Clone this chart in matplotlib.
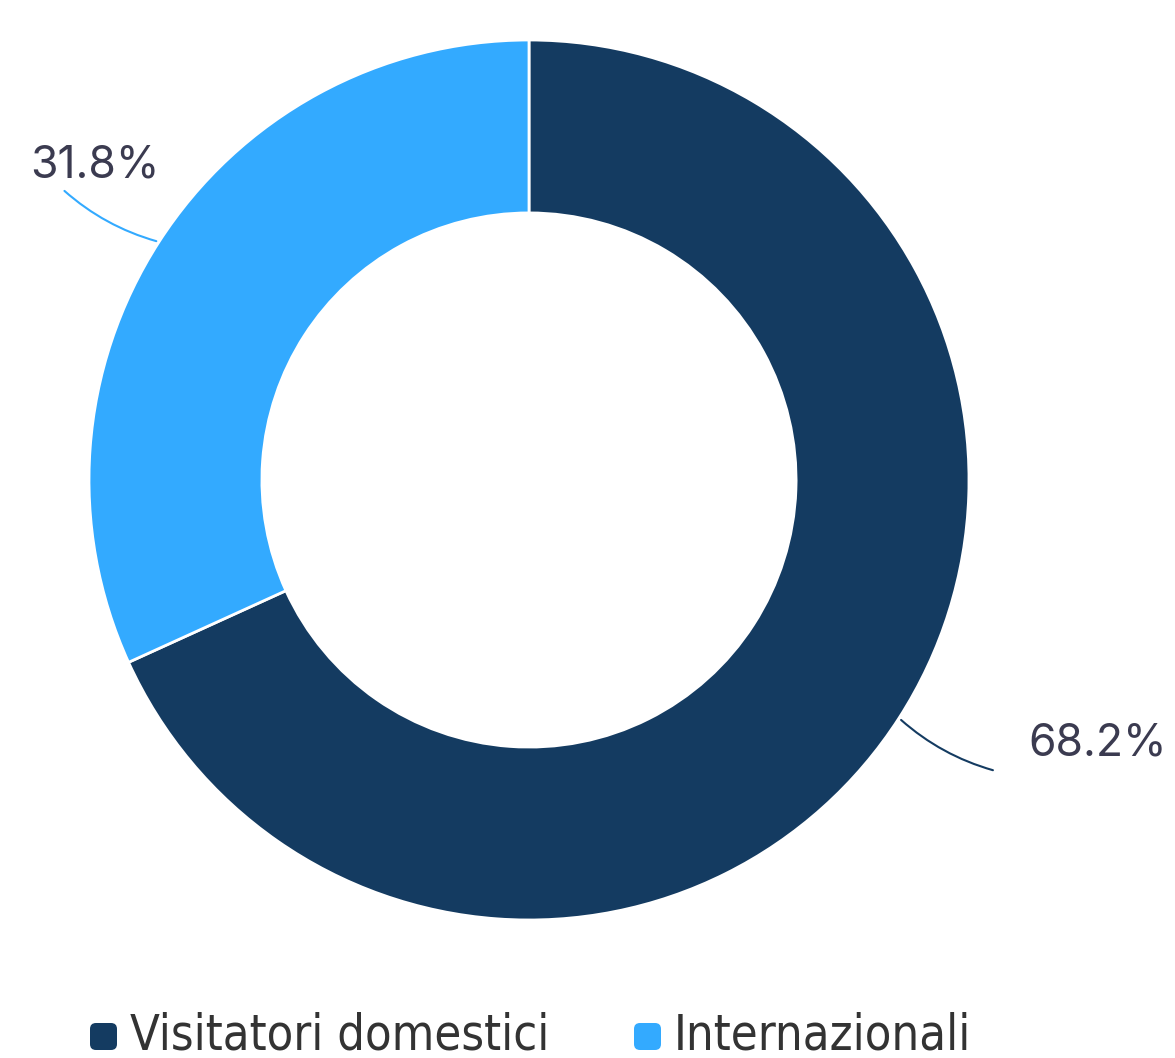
import numpy as np
import matplotlib.pyplot as plt
from matplotlib.patches import FancyBboxPatch

labels = ["Visitatori domestici", "Internazionali"]
values = [68.2, 31.8]
colors = ["#143b61", "#33aaff"]
text_color = "#3b3b50"

W, H = 1175, 1058
fig = plt.figure(figsize=(W / 100, H / 100), dpi=100)
ax = fig.add_axes([0, 0, 1, 1])

cx, cy, r = 529, 480, 440
# y axis is inverted, so clockwise on screen needs counterclock=True with startangle -90
wedges, _ = ax.pie(values, colors=colors, startangle=-90, counterclock=True,
                   center=(cx, cy), radius=r, frame=True,
                   wedgeprops=dict(width=r * 0.393, edgecolor="white", linewidth=2))
ax.set_xlim(0, W)
ax.set_ylim(H, 0)
ax.set_aspect("equal")
ax.axis("off")

# percentage labels with curved leader lines
total = sum(values)
start = 90.0
for v, c in zip(values, colors):
    mid = np.deg2rad(start - v / total * 360 / 2)
    start -= v / total * 360
    dx, dy = np.cos(mid), -np.sin(mid)
    p0 = (cx + r * dx, cy + r * dy)
    p1 = (cx + r * 1.18 * dx + 30 * np.sign(dx), cy + r * 1.18 * dy + 10 * np.sign(dy))
    ax.annotate("", xy=p1, xytext=p0,
                arrowprops=dict(arrowstyle="-", color=c, lw=1.5,
                                connectionstyle="arc3,rad=%.2f" % (0.12 * np.sign(dx))))
    if dx > 0:
        ax.text(p1[0] + 33, p1[1] - 27, f"{v}%", fontsize=32, family="Inter",
                color=text_color, ha="left", va="center")
    else:
        ax.text(p1[0] + 97, p1[1] - 24, f"{v}%", fontsize=32, family="Inter",
                color=text_color, ha="right", va="center")

# legend
leg_x = [90, 634]
for x, lab, c in zip(leg_x, labels, colors):
    ax.add_patch(FancyBboxPatch((x, 1023), 27, 27, boxstyle="round,pad=0,rounding_size=6",
                                facecolor=c, edgecolor="none"))
    ax.text(x + 40, 1036, lab, fontsize=35, family="DejaVu Sans", fontstretch="condensed",
            color="#333333", ha="left", va="center")

fig.savefig("out.png", dpi=100)
